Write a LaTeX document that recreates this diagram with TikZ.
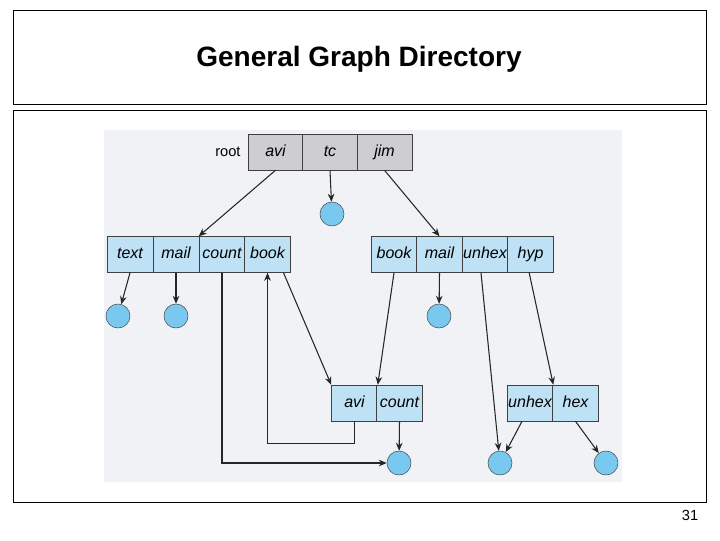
\documentclass[tikz,border=0pt]{standalone}
\usepackage{fontspec}
\setmainfont{Liberation Sans}
\usetikzlibrary{arrows.meta,positioning}
\definecolor{cellblue}{RGB}{190,225,245}
\definecolor{cellgray}{RGB}{205,205,210}
\definecolor{ballblue}{RGB}{120,200,240}
\definecolor{panel}{RGB}{240,242,245}
\begin{document}
\begin{tikzpicture}[x=0.75pt,y=-0.75pt,
    cell/.style={rectangle, draw=black!75, fill=cellblue, minimum width=34.5pt, minimum height=27pt, inner sep=0pt, text height=8.5pt, text depth=2.5pt, font=\itshape\fontsize{12}{12}\selectfont},
    rcell/.style={cell, fill=cellgray, minimum width=41pt},
    ball/.style={circle, draw=black!70, fill=ballblue, minimum size=18pt, inner sep=0pt},
    link/.style={-{Stealth[length=6pt,width=5pt]}, thick, black!85},
]
    \useasboundingbox (0,0) rectangle (720,540);
    % frames
    \draw (13,10) rectangle (706,104);
    \node[font=\bfseries\fontsize{21}{21}\selectfont] (title) at (359,59) {General Graph Directory};
    \draw (13,110) rectangle (706,502);
    \fill[panel] (104,130) rectangle (622,482);
    \node[font=\fontsize{11}{11}\selectfont] (page) at (690,515) {31};

    % root directory
    \node[rcell] (ravi) at (275.5,152) {avi};
    \node[rcell] (rtc) at (330,152) {tc};
    \node[rcell] (rjim) at (384.5,152) {jim};
    \node[font=\fontsize{11}{11}\selectfont, left=2pt of ravi] (root) {root};

    % avi directory
    \node[cell] (atext) at (130,254.5) {text};
    \node[cell] (amail) at (176,254.5) {mail};
    \node[cell] (acount) at (222,254.5) {count};
    \node[cell] (abook) at (267.5,254.5) {book};

    % jim directory
    \node[cell] (jbook) at (394,254.5) {book};
    \node[cell] (jmail) at (439.5,254.5) {mail};
    \node[cell] (junhex) at (485,254.5) {unhex};
    \node[cell] (jhyp) at (530.5,254.5) {hyp};

    % book directory
    \node[cell] (bavi) at (354.5,403) {avi};
    \node[cell] (bcount) at (399.5,403) {count};

    % hyp directory
    \node[cell] (hunhex) at (530,403) {unhex};
    \node[cell] (hhex) at (575.5,403) {hex};

    % files
    \node[ball] (ftc) at (332,214) {};
    \node[ball] (ftext) at (118,316) {};
    \node[ball] (fmail) at (176,316) {};
    \node[ball] (fjmail) at (439,316) {};
    \node[ball] (fcount) at (399,463) {};
    \node[ball] (funhex) at (500,463) {};
    \node[ball] (fhex) at (606,463) {};

    % links
    \draw[link] (ravi.south) -- (acount.north west);
    \draw[link] (rtc.south) -- (ftc);
    \draw[link] (rjim.south) -- (jmail.north);
    \draw[link] (atext.south) -- (ftext);
    \draw[link] (amail.south) -- (fmail);
    \draw[link] (acount.south) |- (fcount);
    \draw[link] ([xshift=12pt]abook.south) -- (bavi.north west);
    \draw[link] (bavi.south) -- ++(0,22) -| (abook.south);
    \draw[link] (jbook.south) -- (bavi.north east);
    \draw[link] (jmail.south) -- (fjmail);
    \draw[link] ([xshift=-3pt]junhex.south) -- (funhex);
    \draw[link] ([xshift=-1pt]jhyp.south) -- (hunhex.north east);
    \draw[link] (bcount.south) -- (fcount);
    \draw[link] ([xshift=-6pt]hunhex.south) -- (funhex);
    \draw[link] (hhex.south) -- (fhex);
\end{tikzpicture}
\end{document}
